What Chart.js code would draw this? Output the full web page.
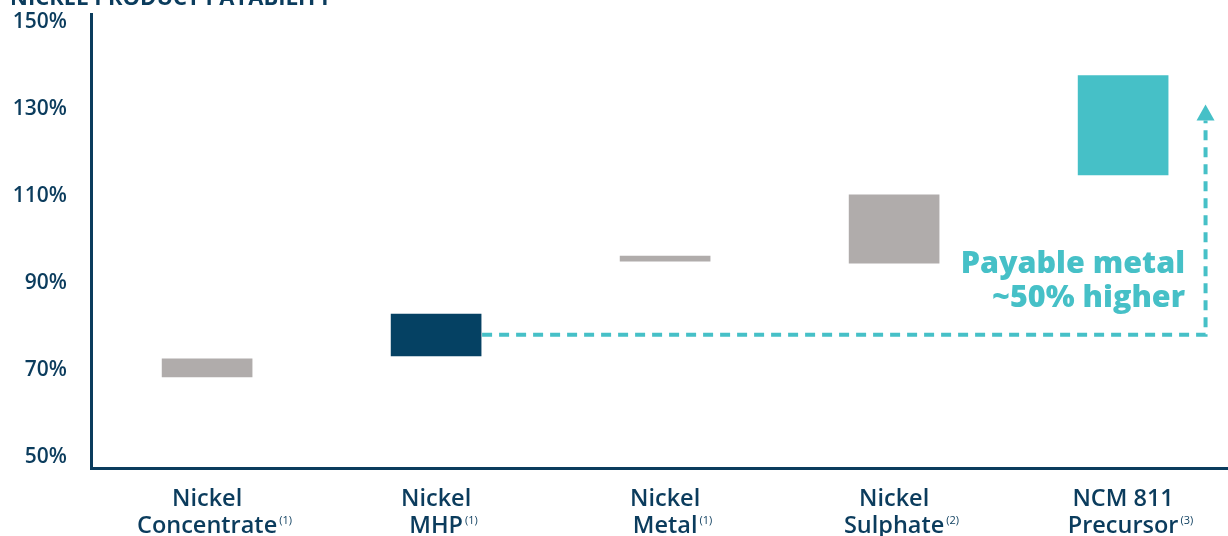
<!DOCTYPE html>
<html>
<head>
<meta charset="utf-8">
<script src="https://cdn.jsdelivr.net/npm/chart.js@4.4.1/dist/chart.umd.min.js"></script>
<style>
  html, body { margin: 0; padding: 0; background: #fff; overflow: hidden; }
  #wrap { width: 1228px; height: 536px; position: relative; }
</style>
</head>
<body>
<div id="wrap"><canvas id="chart"></canvas></div>
<script>
// ---------------------------------------------------------------------------
// Data
// ---------------------------------------------------------------------------
const categories = [
  ["Nickel", "Concentrate"],
  ["Nickel", "MHP"],
  ["Nickel", "Metal"],
  ["Nickel", "Sulphate"],
  ["NCM 811", "Precursor"],
];
const footnotes = ["(1)", "(1)", "(1)", "(2)", "(3)"];
const lows = [68.2, 73.0, 94.8, 94.3, 114.6];
const highs = [72.8, 83.1, 96.4, 110.5, 137.9];
const yTicks = [50, 70, 90, 110, 130, 150];

// dashed arrow from the MHP bar to the precursor level
const arrowFromIndex = 1;
const arrowX = 4.36;
const arrowY = 78.1;
const arrowTipY = 131;
const noteLines = ["Payable metal", "~50% higher"];
const chartTitle = "NICKEL PRODUCT PAYABILITY";

const NAVY = "#0b3c5d";
const TEAL = "#46c0c7";
const GREY = "#b0acab";
const barColors = [GREY, "#054163", GREY, GREY, TEAL];
const LABEL_FONT = "600 23.5px 'Open Sans'";

// ---------------------------------------------------------------------------
// Extras: title, footnote superscripts, dashed arrow, note
// ---------------------------------------------------------------------------
const extras = {
  id: "extras",
  afterDatasetsDraw(chart) {
    const { ctx, scales } = chart;
    const x = scales.x, y = scales.y;
    ctx.save();

    // title (cut off at the top of the picture)
    ctx.fillStyle = NAVY;
    ctx.font = "700 22px 'Open Sans'";
    ctx.textAlign = "left";
    ctx.textBaseline = "alphabetic";
    ctx.fillText(chartTitle, 10, 5);

    // dashed connector
    const bar = chart.getDatasetMeta(0).data[arrowFromIndex];
    const x0 = bar.x + bar.width / 2;
    const y0 = y.getPixelForValue(arrowY);
    const x1 = x.getPixelForValue(arrowX);
    const tip = y.getPixelForValue(arrowTipY);
    const headH = 16;
    ctx.strokeStyle = TEAL;
    ctx.lineWidth = 4;
    ctx.setLineDash([10, 7]);
    ctx.beginPath();
    ctx.moveTo(x0, y0);
    ctx.lineTo(x1, y0);
    ctx.lineTo(x1, tip + headH);
    ctx.stroke();
    ctx.setLineDash([]);
    ctx.fillStyle = TEAL;
    ctx.beginPath();
    ctx.moveTo(x1, tip);
    ctx.lineTo(x1 + 9, tip + headH);
    ctx.lineTo(x1 - 9, tip + headH);
    ctx.closePath();
    ctx.fill();

    // note
    ctx.font = "800 30.5px 'Open Sans'";
    ctx.textAlign = "right";
    ctx.fillText(noteLines[0], 1185, 273);
    ctx.fillText(noteLines[1], 1185, 307);

    // footnote markers next to second label line
    ctx.font = LABEL_FONT;
    const widths = categories.map((c) => ctx.measureText(c[1]).width);
    ctx.font = "400 11px 'Open Sans'";
    ctx.fillStyle = NAVY;
    ctx.textAlign = "left";
    ctx.textBaseline = "top";
    categories.forEach((c, i) => {
      const cx = x.getPixelForValue(i);
      ctx.fillText(footnotes[i], cx + widths[i] / 2 + 2, 515);
    });

    ctx.restore();
  },
};

// ---------------------------------------------------------------------------
// Chart
// ---------------------------------------------------------------------------
new Chart(document.getElementById("chart"), {
  type: "bar",
  data: {
    datasets: [
      {
        data: categories.map((c, i) => ({ x: i, y: [lows[i], highs[i]] })),
        backgroundColor: barColors,
        borderColor: "rgba(255,255,255,0.8)",
        borderWidth: 1,
        borderSkipped: false,
        barThickness: 92,
      },
    ],
  },
  options: {
    responsive: true,
    maintainAspectRatio: false,
    animation: false,
    layout: { padding: { top: 14, right: 0, left: 0, bottom: 0 } },
    plugins: { legend: { display: false }, tooltip: { enabled: false } },
    scales: {
      x: {
        type: "linear",
        offset: false,
        min: -0.507,
        max: 4.458,
        grid: { display: false, drawTicks: false, offset: false },
        border: { display: true, color: NAVY, width: 3 },
        afterBuildTicks: (s) => { s.ticks = categories.map((c, i) => ({ value: i })); },
        afterFit: (s) => {
          s.height = 68;
          s.paddingLeft = 0;
          s.paddingRight = 0;
        },
        ticks: {
          autoSkip: false,
          maxRotation: 0,
          padding: 18,
          color: NAVY,
          font: { family: "Open Sans", size: 23.5, weight: "600", lineHeight: 27 / 23.5 },
          callback: (v) => categories[v] || "",
        },
      },
      y: {
        min: 47.5,
        max: 151.8,
        grid: { display: false, drawTicks: false },
        border: { display: true, color: NAVY, width: 3 },
        afterBuildTicks: (s) => { s.ticks = yTicks.map((v) => ({ value: v })); },
        afterFit: (s) => {
          s.width = 91;
          s.paddingTop = 0;
          s.paddingBottom = 0;
        },
        ticks: {
          padding: 24,
          color: NAVY,
          font: { family: "Open Sans", size: 21, weight: "600" },
          callback: (v) => v + "%",
        },
      },
    },
  },
  plugins: [extras],
});
</script>
</body>
</html>
